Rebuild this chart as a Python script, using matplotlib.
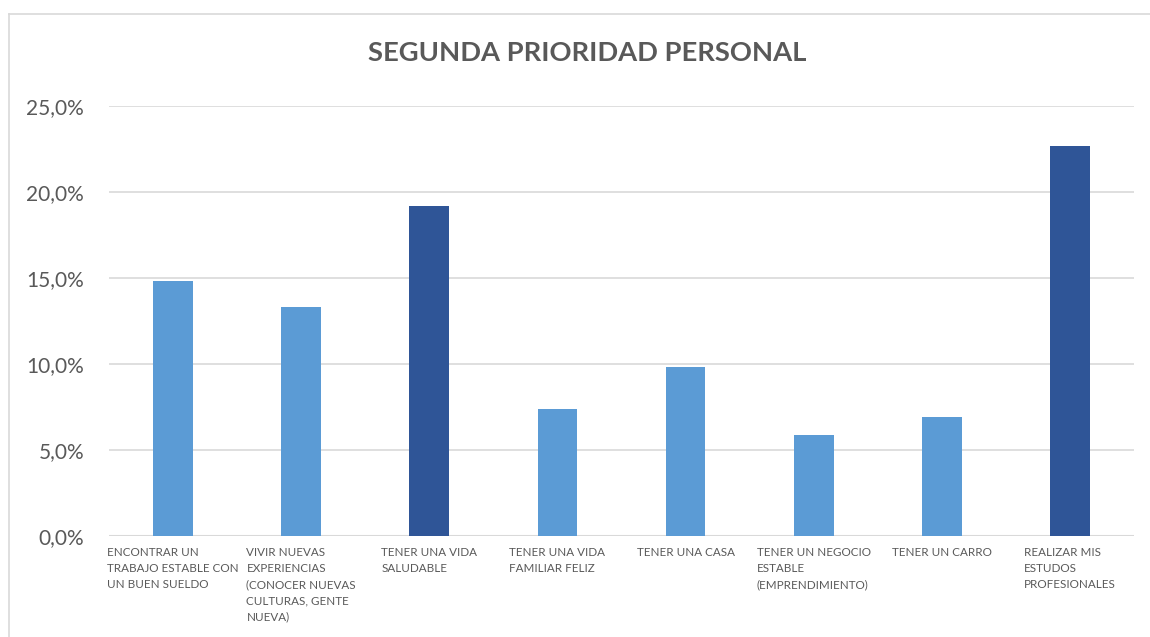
import matplotlib
matplotlib.use("Agg")
import matplotlib.pyplot as plt
from matplotlib.lines import Line2D

categories = [
    "ENCONTRAR UN\nTRABAJO ESTABLE CON\nUN BUEN SUELDO",
    "VIVIR NUEVAS\nEXPERIENCIAS\n(CONOCER NUEVAS\nCULTURAS, GENTE\nNUEVA)",
    "TENER UNA VIDA\nSALUDABLE",
    "TENER UNA VIDA\nFAMILIAR FELIZ",
    "TENER UNA CASA",
    "TENER UN NEGOCIO\nESTABLE\n(EMPRENDIMIENTO)",
    "TENER UN CARRO",
    "REALIZAR MIS\nESTUDOS\nPROFESIONALES",
]
values = [14.8, 13.3, 19.2, 7.4, 9.8, 5.9, 6.9, 22.7]
highlight = [False, False, True, False, False, False, False, True]
yticks = [0, 5, 10, 15, 20, 25]
title = "SEGUNDA PRIORIDAD PERSONAL"

light = "#5B9BD5"
dark = "#2F5597"
grid = "#D9D9D9"
txt = "#595959"

plt.rcParams['font.family'] = ['Lato', 'DejaVu Sans']

fig = plt.figure(figsize=(11.5, 6.37), dpi=100)
ax = fig.add_axes([109/1150, 1 - 536/637, (1134-109)/1150, (536-106)/637])

x = list(range(len(values)))
colors = [dark if h else light for h in highlight]
ax.bar(x, values, width=0.31, color=colors, zorder=3)

ax.set_xlim(-0.5, len(values) - 0.5)
ax.set_ylim(0, 25)
ax.set_yticks(yticks)
ax.set_yticklabels([f"{v:.1f}".replace(".", ",") + "%" for v in yticks],
                   fontsize=15, color=txt)
ax.tick_params(axis='y', length=0, pad=18)
ax.set_xticks([])
for s in ax.spines.values():
    s.set_visible(False)
ax.grid(axis='y', color=grid, linewidth=1.2, zorder=0)
ax.axhline(0, color=grid, linewidth=1.5, zorder=2)

for i, lab in enumerate(categories):
    ax.text(i, -0.65, lab, ha='center', va='top', multialignment='left',
            fontsize=8.4, color=txt, linespacing=1.55,
            transform=ax.transData)

fig.text(587/1150, 1 - 53/637, title, ha='center', va='center',
         fontsize=19.7, fontweight='bold', color=txt)

# chart frame
fig.add_artist(Line2D([9/1150, 1], [1 - 14/637, 1 - 14/637],
                      transform=fig.transFigure, color=grid, linewidth=1.2))
fig.add_artist(Line2D([9/1150, 9/1150], [0, 1 - 14/637],
                      transform=fig.transFigure, color=grid, linewidth=1.2))

fig.savefig("out.png", dpi=100, facecolor="white")
